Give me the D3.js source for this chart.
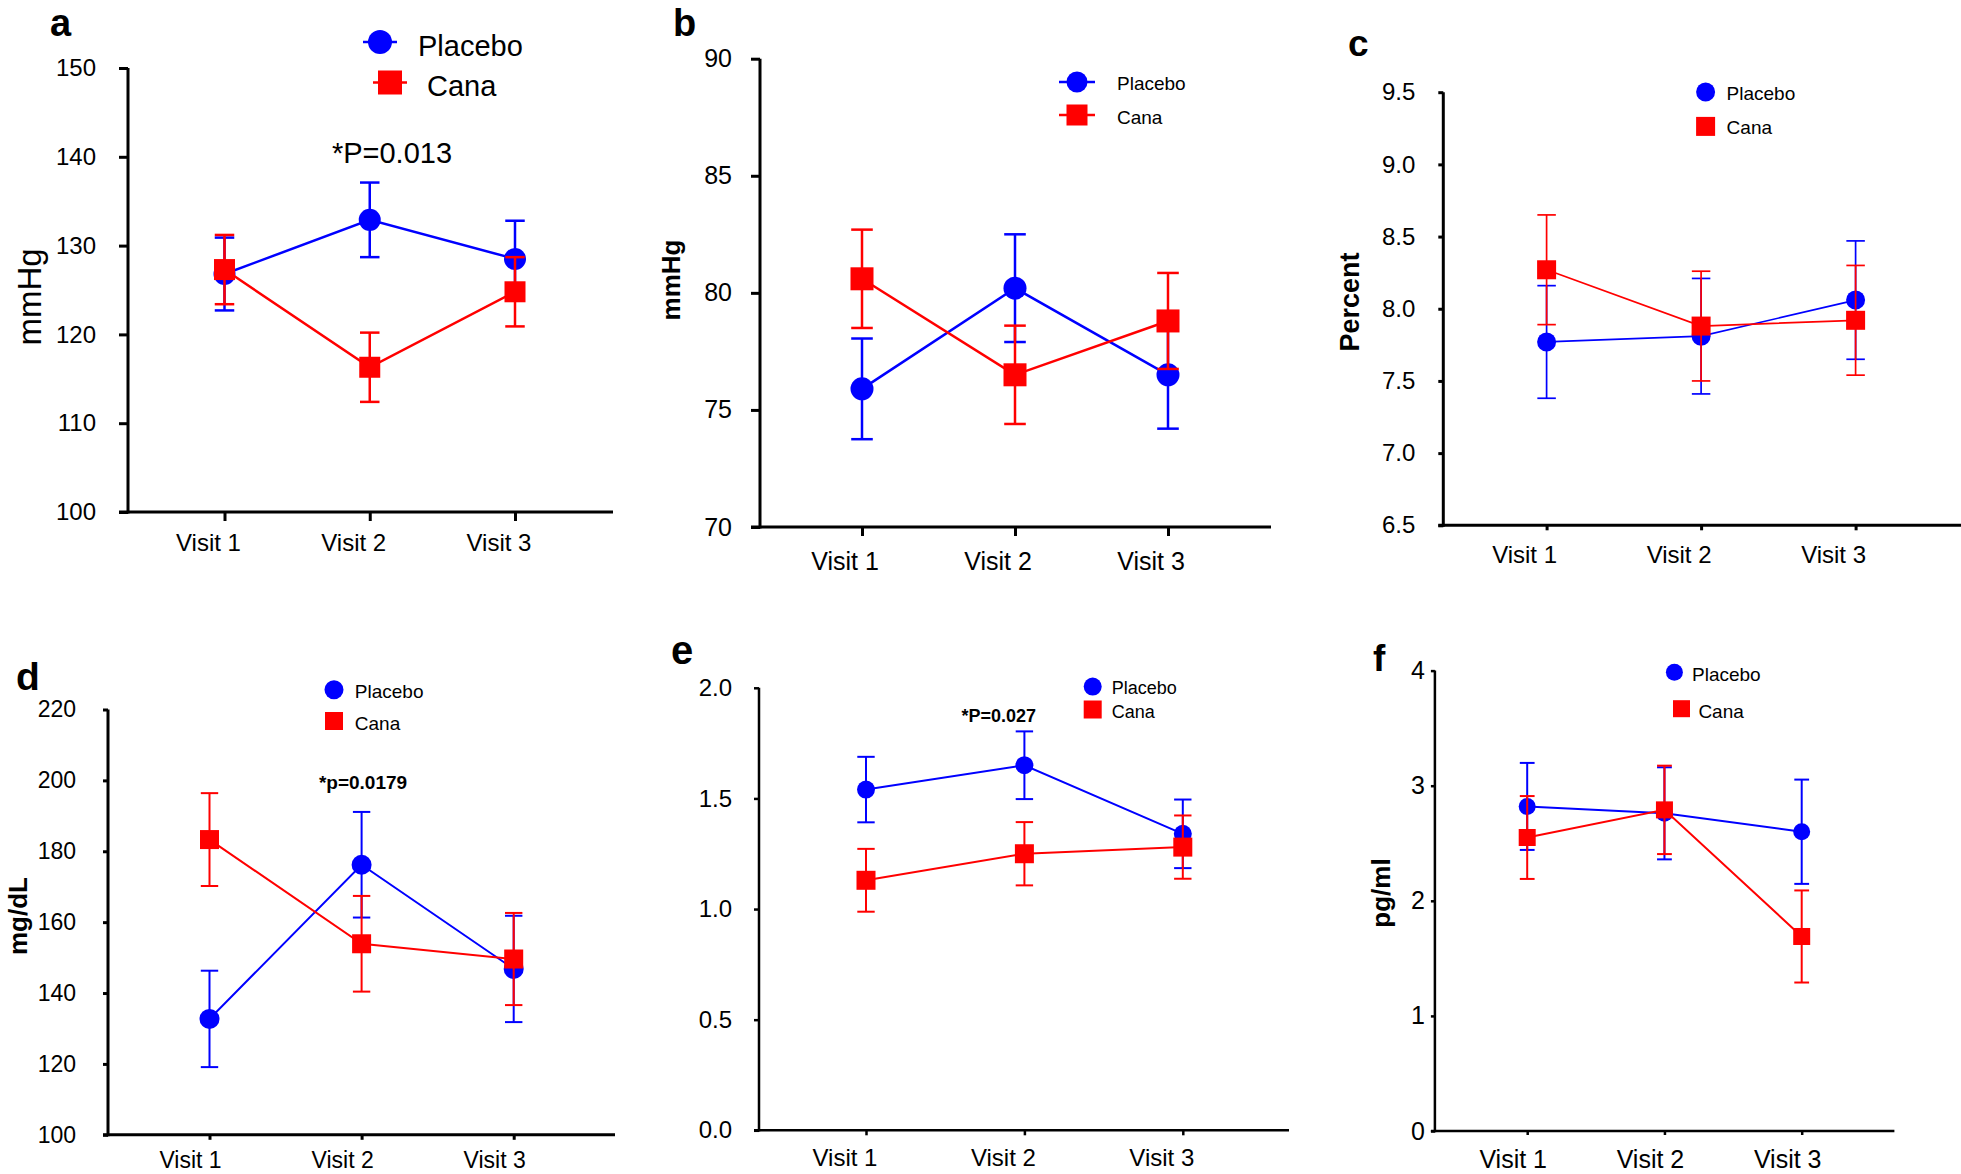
<!DOCTYPE html>
<html>
<head>
<meta charset="utf-8">
<script src="https://cdn.jsdelivr.net/npm/d3@7"></script>
<style>
  html, body { margin: 0; padding: 0; background: #fff; }
  svg { display: block; }
  text { font-family: "Liberation Sans", Arial, Helvetica, sans-serif; fill: #000; }
</style>
</head>
<body>
<svg id="chart" width="1961" height="1174"></svg>
<script>
// ---------------- DATA ----------------
const visits = ["Visit 1", "Visit 2", "Visit 3"];
const seriesNames = ["Placebo", "Cana"];

// a
const aPlaceboMean = [126.8, 132.9, 128.5];
const aPlaceboErr  = [4.1, 4.2, 4.3];
const aCanaMean    = [127.3, 116.3, 124.8];
const aCanaErr     = [3.9, 3.9, 3.9];
const aTicks = [100, 110, 120, 130, 140, 150];

// b
const bPlaceboMean = [75.9, 80.2, 76.5];
const bPlaceboErr  = [2.15, 2.3, 2.3];
const bCanaMean    = [80.6, 76.5, 78.8];
const bCanaErr     = [2.1, 2.1, 2.05];
const bTicks = [70, 75, 80, 85, 90];

// c
const cPlaceboMean = [7.77, 7.81, 8.06];
const cPlaceboErr  = [0.39, 0.40, 0.41];
const cCanaMean    = [8.27, 7.88, 7.92];
const cCanaErr     = [0.38, 0.38, 0.38];
const cTicks = [6.5, 7.0, 7.5, 8.0, 8.5, 9.0, 9.5];

// d
const dPlaceboMean = [132.7, 176.2, 146.8];
const dPlaceboErr  = [13.6, 14.9, 15.0];
const dCanaMean    = [183.3, 153.9, 149.6];
const dCanaErr     = [13.1, 13.5, 13.0];
const dTicks = [100, 120, 140, 160, 180, 200, 220];

// e
const ePlaceboMean = [1.54, 1.65, 1.34];
const ePlaceboErr  = [0.148, 0.153, 0.155];
const eCanaMean    = [1.13, 1.25, 1.28];
const eCanaErr     = [0.142, 0.143, 0.143];
const eTicks = [0.0, 0.5, 1.0, 1.5, 2.0];

// f
const fPlaceboMean = [2.82, 2.76, 2.60];
const fPlaceboErr  = [0.378, 0.40, 0.453];
const fCanaMean    = [2.55, 2.79, 1.69];
const fCanaErr     = [0.36, 0.384, 0.40];
const fTicks = [0, 1, 2, 3, 4];

const annotA = "*P=0.013";
const annotD = "*p=0.0179";
const annotE = "*P=0.027";

// ---------------- LAYOUT ----------------
const BLUE = "#0000ff", RED = "#ff0000";
const svg = d3.select("#chart");

const panels = [
  { id: "a", pm: aPlaceboMean, pe: aPlaceboErr, cm: aCanaMean, ce: aCanaErr, ticks: aTicks, fmt: d3.format("d"),
    ax: 128, top: 68, bottom: 512, xEnd: 613, v1: 224.5, v3: 515,
    tickLen: 9, tickPad: 23, tickFont: 24, visitBase: 551, visitShift: -16, axisW: 3, lineW: 2.5, r: 11, sq: 21, cap: 19.5,
    label: { x: 50, y: 36, size: 38 },
    ylab: { text: "mmHg", x: 41, y: 297, size: 33, bold: false },
    legend: { lines: true, size: 29, lineHalf: 17, r: 12, sq: 24,
      items: [ { mx: 380, my: 42, tx: 418, ty: 56 }, { mx: 390, my: 82.5, tx: 427, ty: 96 } ] },
    annot: { text: annotA, x: 392, y: 163, size: 29, bold: false } },
  { id: "b", pm: bPlaceboMean, pe: bPlaceboErr, cm: bCanaMean, ce: bCanaErr, ticks: bTicks, fmt: d3.format("d"),
    ax: 760, top: 58.7, bottom: 527, xEnd: 1271, v1: 862, v3: 1168,
    tickLen: 9, tickPad: 19, tickFont: 25, visitBase: 570, visitShift: -17, axisW: 3, lineW: 2.5, r: 11.5, sq: 23, cap: 21.6,
    label: { x: 673, y: 36, size: 38 },
    ylab: { text: "mmHg", x: 680, y: 280, size: 26, bold: true },
    legend: { lines: true, size: 19, lineHalf: 18, r: 10.5, sq: 21,
      items: [ { mx: 1077, my: 82, tx: 1117, ty: 90 }, { mx: 1077, my: 115, tx: 1117, ty: 124 } ] } },
  { id: "c", pm: cPlaceboMean, pe: cPlaceboErr, cm: cCanaMean, ce: cCanaErr, ticks: cTicks, fmt: d3.format(".1f"),
    ax: 1443.3, top: 92.2, bottom: 525.3, xEnd: 1961, v1: 1546.6, v3: 1855.6,
    tickLen: 5, tickPad: 23, tickFont: 24, visitBase: 563, visitShift: -22, axisW: 3, lineW: 1.7, r: 9.5, sq: 19, cap: 18.5,
    label: { x: 1348, y: 56, size: 37 },
    ylab: { text: "Percent", x: 1359, y: 302, size: 27, bold: true },
    legend: { lines: false, size: 19, r: 9.5, sq: 19,
      items: [ { mx: 1705.6, my: 92, tx: 1726.6, ty: 100 }, { mx: 1705.6, my: 126.4, tx: 1726.6, ty: 134 } ] } },
  { id: "d", pm: dPlaceboMean, pe: dPlaceboErr, cm: dCanaMean, ce: dCanaErr, ticks: dTicks, fmt: d3.format("d"),
    ax: 108, top: 709.5, bottom: 1134.8, xEnd: 615, v1: 209.5, v3: 513.7,
    tickLen: 5, tickPad: 27, tickFont: 23, visitBase: 1168, visitShift: -19, axisW: 3, lineW: 2, r: 10, sq: 19, cap: 17.4,
    label: { x: 16, y: 690, size: 39 },
    ylab: { text: "mg/dL", x: 27, y: 916, size: 26, bold: true },
    legend: { lines: false, size: 19, r: 9.5, sq: 18,
      items: [ { mx: 334, my: 689.7, tx: 354.8, ty: 698 }, { mx: 334, my: 721, tx: 354.8, ty: 729.7 } ] },
    annot: { text: annotD, x: 363, y: 788.7, size: 19, bold: true } },
  { id: "e", pm: ePlaceboMean, pe: ePlaceboErr, cm: eCanaMean, ce: eCanaErr, ticks: eTicks, fmt: d3.format(".1f"),
    ax: 759, top: 687.8, bottom: 1130.3, xEnd: 1289, v1: 866, v3: 1182.8,
    tickLen: 5, tickPad: 22, tickFont: 24, visitBase: 1166, visitShift: -21, axisW: 2.5, lineW: 2, r: 9, sq: 19, cap: 17.4,
    label: { x: 671, y: 664, size: 40 },
    ylab: null,
    legend: { lines: false, size: 18, r: 9, sq: 18,
      items: [ { mx: 1092.7, my: 686.6, tx: 1111.8, ty: 694 }, { mx: 1092.7, my: 709.5, tx: 1111.8, ty: 718 } ] },
    annot: { text: annotE, x: 998.7, y: 721.7, size: 18, bold: true } },
  { id: "f", pm: fPlaceboMean, pe: fPlaceboErr, cm: fCanaMean, ce: fCanaErr, ticks: fTicks, fmt: d3.format("d"),
    ax: 1434.9, top: 670.6, bottom: 1131, xEnd: 1894.4, v1: 1527.2, v3: 1801.7,
    tickLen: 4, tickPad: 6, tickFont: 25, visitBase: 1168, visitShift: -14, axisW: 2.5, lineW: 2, r: 8.5, sq: 17, cap: 14.8,
    label: { x: 1373, y: 671, size: 37 },
    ylab: { text: "pg/ml", x: 1390, y: 893, size: 26, bold: true },
    legend: { lines: false, size: 19, r: 8.5, sq: 17,
      items: [ { mx: 1674.4, my: 672.2, tx: 1692, ty: 681 }, { mx: 1681.5, my: 708.7, tx: 1698.4, ty: 718 } ] } }
];

function drawMarker(g, shape, cx, cy, r, sq, color) {
  if (shape === "circle") {
    g.append("circle").attr("cx", cx).attr("cy", cy).attr("r", r).attr("fill", color);
  } else {
    g.append("rect").attr("x", cx - sq / 2).attr("y", cy - sq / 2).attr("width", sq).attr("height", sq).attr("fill", color);
  }
}

panels.forEach(p => {
  const g = svg.append("g").attr("class", "panel-" + p.id);
  const x = d3.scalePoint().domain(visits).range([p.v1, p.v3]);
  const y = d3.scaleLinear().domain([d3.min(p.ticks), d3.max(p.ticks)]).range([p.bottom, p.top]);

  // Y axis
  const yAxis = d3.axisLeft(y).tickValues(p.ticks).tickFormat(p.fmt)
    .tickSize(p.tickLen).tickSizeOuter(0).tickPadding(p.tickPad);
  const yg = g.append("g").attr("transform", `translate(${p.ax},0)`).call(yAxis);
  yg.select(".domain").attr("stroke", "#000").attr("stroke-width", p.axisW)
    .attr("d", `M0,${p.bottom + p.axisW / 2}V${p.top}`);
  yg.selectAll(".tick line").attr("stroke", "#000").attr("stroke-width", p.axisW);
  yg.selectAll(".tick text").attr("font-size", p.tickFont).attr("fill", "#000")
    .style("font-family", '"Liberation Sans", Arial, sans-serif');

  // X axis
  const xAxis = d3.axisBottom(x).tickSize(p.tickLen).tickSizeOuter(0).tickPadding(0).tickFormat("");
  const xg = g.append("g").attr("transform", `translate(0,${p.bottom})`).call(xAxis);
  xg.select(".domain").attr("stroke", "#000").attr("stroke-width", p.axisW)
    .attr("d", `M${p.ax - p.tickLen},0H${p.xEnd}`);
  xg.selectAll(".tick line").attr("stroke", "#000").attr("stroke-width", p.axisW);
  g.selectAll("text.visit").data(visits).join("text").attr("class", "visit")
    .attr("x", d => x(d) + p.visitShift).attr("y", p.visitBase).attr("text-anchor", "middle")
    .attr("font-size", p.tickFont).text(d => d);

  // Series
  const series = [
    { name: seriesNames[0], mean: p.pm, err: p.pe, color: BLUE, shape: "circle" },
    { name: seriesNames[1], mean: p.cm, err: p.ce, color: RED, shape: "square" }
  ];
  series.forEach(s => {
    const sg = g.append("g");
    const pts = visits.map((v, i) => ({ v, m: s.mean[i], e: s.err[i] }));
    // error bars
    pts.forEach(d => {
      const cx = x(d.v);
      sg.append("line").attr("x1", cx).attr("x2", cx).attr("y1", y(d.m - d.e)).attr("y2", y(d.m + d.e))
        .attr("stroke", s.color).attr("stroke-width", p.lineW);
      [d.m - d.e, d.m + d.e].forEach(val => {
        sg.append("line").attr("x1", cx - p.cap / 2).attr("x2", cx + p.cap / 2)
          .attr("y1", y(val)).attr("y2", y(val)).attr("stroke", s.color).attr("stroke-width", p.lineW);
      });
    });
    // line
    sg.append("path").datum(pts)
      .attr("d", d3.line().x(d => x(d.v)).y(d => y(d.m)))
      .attr("fill", "none").attr("stroke", s.color).attr("stroke-width", p.lineW);
    // markers
    pts.forEach(d => drawMarker(sg, s.shape, x(d.v), y(d.m), p.r, p.sq, s.color));
  });

  // Legend
  series.forEach((s, i) => {
    const it = p.legend.items[i];
    const lg = g.append("g");
    if (p.legend.lines) {
      lg.append("line").attr("x1", it.mx - p.legend.lineHalf).attr("x2", it.mx + p.legend.lineHalf)
        .attr("y1", it.my).attr("y2", it.my).attr("stroke", s.color).attr("stroke-width", p.lineW);
    }
    drawMarker(lg, s.shape, it.mx, it.my, p.legend.r, p.legend.sq, s.color);
    lg.append("text").attr("x", it.tx).attr("y", it.ty).attr("font-size", p.legend.size).text(s.name);
  });

  // Panel letter
  g.append("text").attr("x", p.label.x).attr("y", p.label.y).attr("font-size", p.label.size)
    .attr("font-weight", "bold").text(p.id);

  // Y label
  if (p.ylab) {
    g.append("text").attr("transform", `translate(${p.ylab.x},${p.ylab.y}) rotate(-90)`)
      .attr("text-anchor", "middle").attr("font-size", p.ylab.size)
      .attr("font-weight", p.ylab.bold ? "bold" : "normal").text(p.ylab.text);
  }

  // Annotation
  if (p.annot) {
    g.append("text").attr("x", p.annot.x).attr("y", p.annot.y).attr("text-anchor", "middle")
      .attr("font-size", p.annot.size).attr("font-weight", p.annot.bold ? "bold" : "normal").text(p.annot.text);
  }
});
</script>
</body>
</html>
